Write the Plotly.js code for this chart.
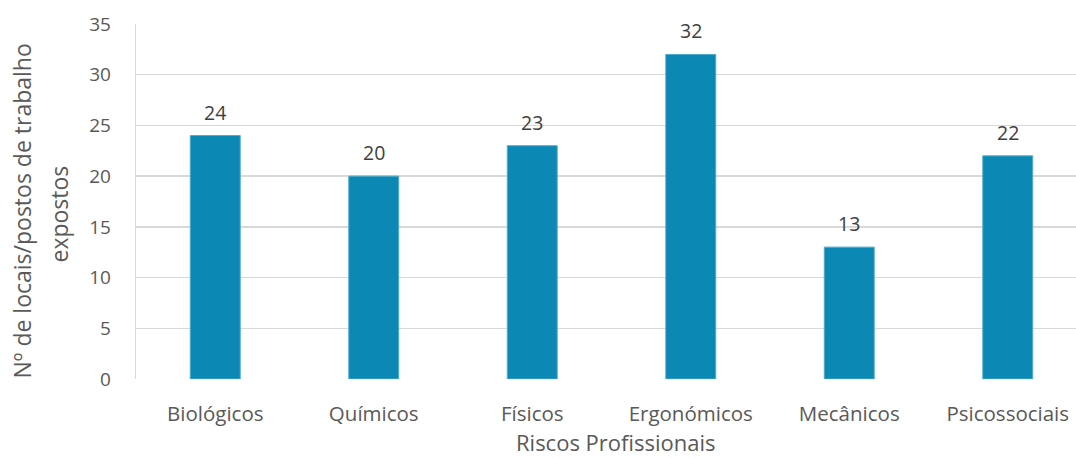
<!DOCTYPE html>
<html><head><meta charset="utf-8">
<script src="https://cdn.plot.ly/plotly-3.0.1.min.js"></script>
<style>html,body{margin:0;padding:0;overflow:hidden;background:#fff}</style>
</head><body><div id="chart" style="width:1090px;height:458px"></div>
<script>
const categories = ["Biológicos","Químicos","Físicos","Ergonómicos","Mecânicos","Psicossociais"];
const values = [24,20,23,32,13,22];
const yTicks = [0,5,10,15,20,25,30,35];
const yTitleLines = ["Nº de locais/postos de trabalho", "expostos"];
const xTitle = "Riscos Profissionais";
const FONT = "Open Sans, sans-serif";
const labelAnns = categories.map((c, i) => ({
  x: c, y: values[i], xref: "x", yref: "y", text: String(values[i]),
  showarrow: false, yanchor: "bottom", yshift: 8,
  font: {family: FONT, size: 19.5, color: "#404040"}
}));
const titleAnns = [
  {text: yTitleLines[0], xref: "paper", yref: "paper", x: 0, y: 0.5, xanchor: "center", yanchor: "middle",
   xshift: -115, yshift: -10, textangle: -90, showarrow: false, font: {family: FONT, size: 23, color: "#595959"}},
  {text: yTitleLines[1], xref: "paper", yref: "paper", x: 0, y: 0.5, xanchor: "center", yanchor: "middle",
   xshift: -78, yshift: -13, textangle: -90, showarrow: false, font: {family: FONT, size: 23, color: "#595959"}},
  {text: xTitle, xref: "paper", yref: "paper", x: 0.5, y: 0, xanchor: "center", yanchor: "middle",
   xshift: 4, yshift: -63, showarrow: false, font: {family: FONT, size: 22, color: "#595959"}}
];
Plotly.newPlot("chart", [{
  type: "bar", x: categories, y: values,
  marker: {color: "#0B88B3", line: {color: "#4FAACB", width: 1}},
  hoverinfo: "x+y"
}], {
  width: 1090, height: 458,
  margin: {l: 136, r: 3, t: 24, b: 79},
  paper_bgcolor: "#fff", plot_bgcolor: "#fff",
  bargap: 0.685,
  font: {family: FONT, color: "#595959"},
  annotations: labelAnns.concat(titleAnns),
  xaxis: {
    tickfont: {family: FONT, size: 20.5, color: "#595959"},
    ticks: "outside", ticklen: 16, tickcolor: "rgba(0,0,0,0)",
    showgrid: false, zeroline: false, showline: false
  },
  yaxis: {
    range: [0, 35], tickvals: yTicks, ticktext: yTicks.map(String),
    tickfont: {family: FONT, size: 19, color: "#595959"},
    gridcolor: "#D9D9D9", gridwidth: 1.3, zeroline: false,
    showline: true, linecolor: "#D9D9D9", linewidth: 1.3, mirror: false,
    ticks: "outside", ticklen: 20, tickcolor: "rgba(0,0,0,0)", automargin: false
  },
  showlegend: false
}, {displayModeBar: false, staticPlot: true});
</script></body></html>
